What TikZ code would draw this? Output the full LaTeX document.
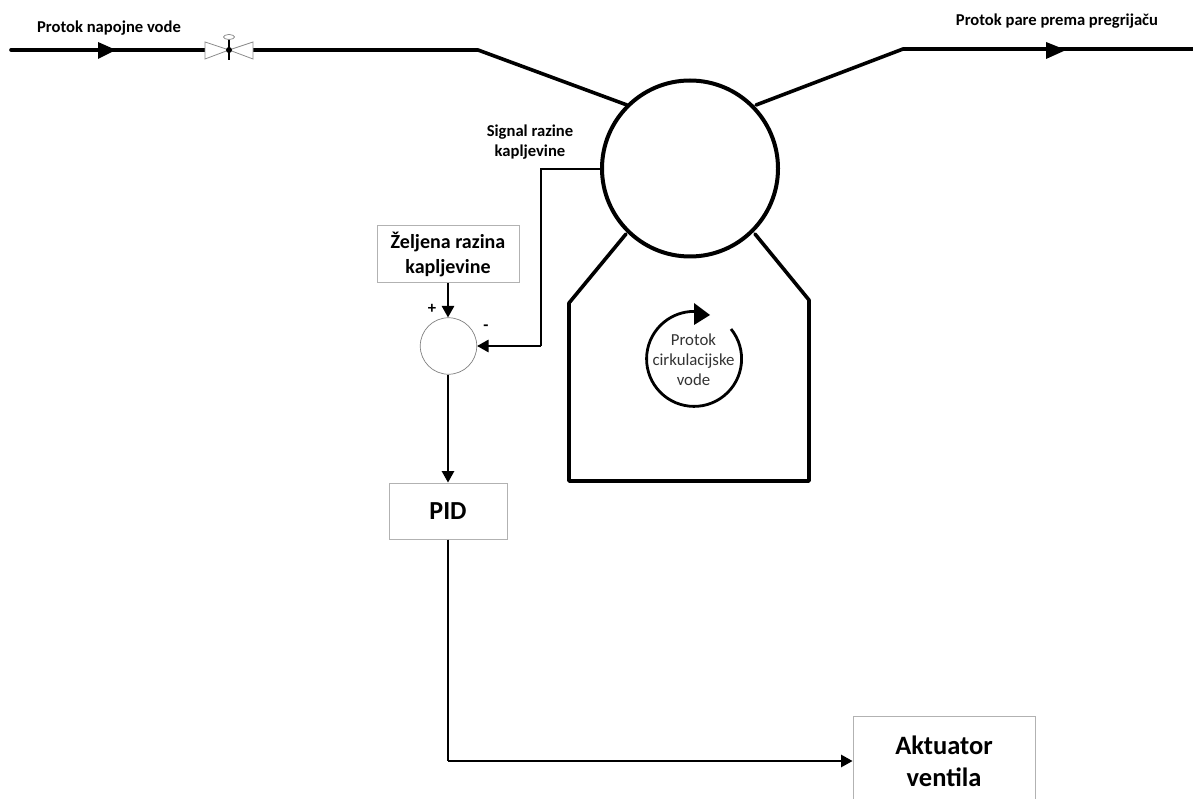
\documentclass[tikz,border=0pt]{standalone}
\usepackage{fontspec}
\setmainfont{Carlito}
\usetikzlibrary{arrows.meta,shapes.geometric}
\definecolor{textgrey}{gray}{0.2}
\tikzset{
  x=1pt,y=-1pt,
  thick pipe/.style={draw=black,line width=3.6pt,line join=round,line cap=round},
  sig/.style={draw=black,line width=1.4pt},
  sigarrow/.style={sig,-{Triangle[length=11.5pt,width=12.5pt]}},
  greybox/.style={draw=black!30,line width=1pt,fill=white,align=center,inner sep=0pt,font=\bfseries},
  lab/.style={font=\bfseries\fontsize{16.6}{20}\selectfont,align=center,inner sep=0pt},
  flow/.style={fill=black,draw=none},
  valveside/.style={draw=black!45,line width=.8pt,fill=white,line join=miter}
}
\begin{document}
\begin{tikzpicture}
\useasboundingbox (0,0) rectangle (1193,799);
% pipes
\coordinate (feedstart) at (11,50);
\coordinate (feedbend) at (478,50);
\coordinate (valveL) at (205,50);
\coordinate (valveR) at (253,50);
\coordinate (valveC) at (229,50);
\coordinate (steambend) at (903,49);
\coordinate (steamend) at (1193,49);
\draw[thick pipe] (feedstart) -- (valveL);
\draw[thick pipe] (valveR) -- (feedbend) -- (627,105);
\draw[thick pipe] (756,105) -- (steambend) -- (steamend);
\draw[thick pipe] (626,234) -- (569,303) -- (569,481) -- (809,481) -- (809,300) -- (755,234);
\node[circle,draw=black,line width=4pt,minimum size=176pt,inner sep=0pt,fill=white] (drum) at (690,168.5) {};
% flow arrowheads
\fill[flow] (98,42) -- (116,50) -- (98,59) -- cycle;
\fill[flow] (1046,42) -- (1066,50) -- (1046,59) -- cycle;
% valve
\draw[valveside] (valveC) -- (205,42) -- (205,59) -- cycle;
\draw[valveside] (valveC) -- (253,42) -- (253,59) -- cycle;
\draw[line width=1.6pt] (229,40) -- (229,60);
\fill (valveC) circle (3pt);
\node[ellipse,draw=black!50,line width=.7pt,minimum width=11pt,minimum height=5pt,inner sep=0pt,fill=white] (valvetop) at (229,37) {};
% circulation
\draw[line width=2.8pt] (731,329) arc[start angle=39,end angle=-270,radius=47.5pt];
\fill[flow] (694,303) -- (710,315) -- (694,325) -- cycle;
\node[align=center,inner sep=0pt,text=textgrey,font=\fontsize{16.8}{20.2}\selectfont] (circ) at (693.5,360) {Protok\\cirkulacijske\\vode};
% boxes
\node[greybox,minimum width=142pt,minimum height=57pt,font=\bfseries\fontsize{20}{25}\selectfont] (zelj) at (448,254.5) {Željena razina\\kapljevine};
\node[circle,draw=black!50,line width=.7pt,minimum size=56.5pt,inner sep=0pt] (sum) at (448.5,346) {};
\node[greybox,minimum width=118pt,minimum height=56pt,font=\bfseries\fontsize{26}{30}\selectfont] (pid) at (448,511) {PID};
\node[greybox,minimum width=182pt,minimum height=90pt,font=\bfseries\fontsize{26.5}{32}\selectfont] (akt) at (944,761) {Aktuator\\ventila};
% connectors
\coordinate (sigturn) at (541,169);
\coordinate (sigdown) at (541,346);
\coordinate (pidturn) at (448,761);
\draw[sig] (drum.west |- sigturn) -- (sigturn) -- (sigdown);
\draw[sigarrow] (sigdown) -- (sum.east);
\draw[sigarrow] (zelj.south) -- (sum.north -| zelj.south);
\draw[sigarrow] (sum.south -| pid.north) -- (pid.north);
\draw[sig] (pid.south) -- (pidturn);
\draw[sigarrow] (pidturn) -- (akt.west);
% labels
\node[lab] (l1) at (109,28.5) {Protok napojne vode};
\node[lab] (l2) at (1057,21.5) {Protok pare prema pregrijaču};
\node[lab] (l3) at (530,142) {Signal razine\\kapljevine};
\node[lab] (plus) at (432,309) {+};
\node[lab] (minus) at (486,328) {-};
\end{tikzpicture}
\end{document}
